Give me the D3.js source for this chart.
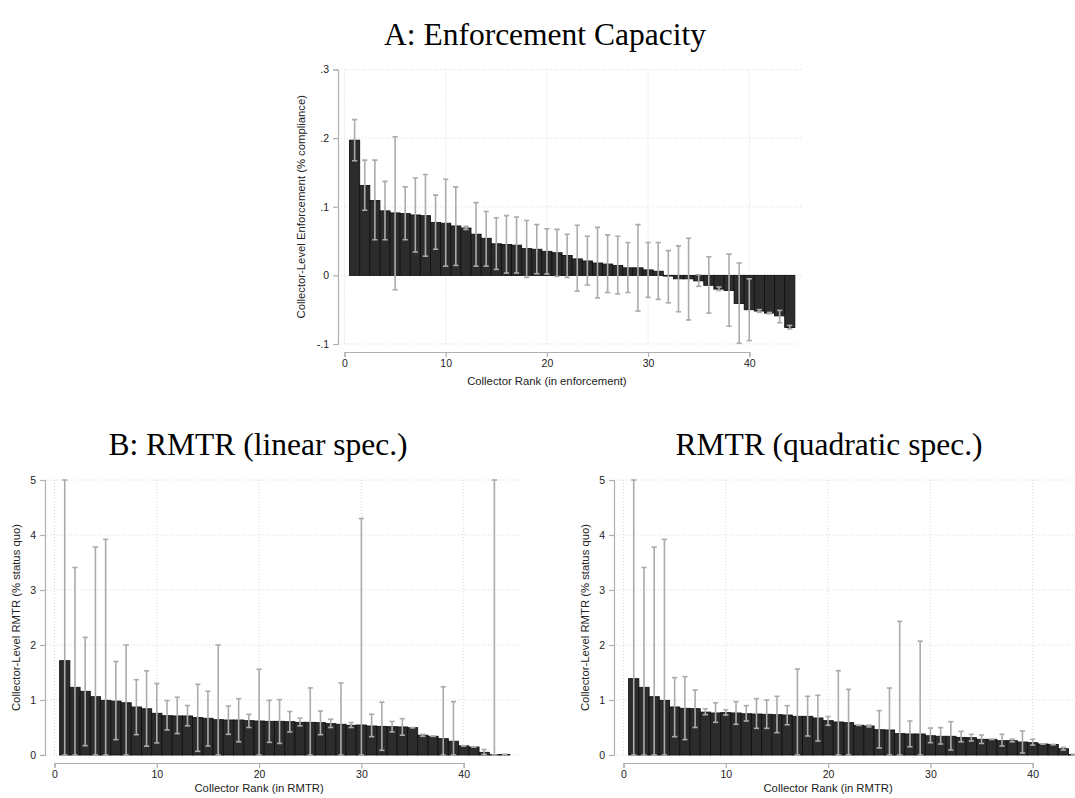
<!DOCTYPE html>
<html>
<head>
<meta charset="utf-8">
<script src="https://cdn.jsdelivr.net/npm/d3@7"></script>
<style>
  html, body { margin: 0; padding: 0; background: #fff; }
  svg { display: block; }
  .tick-label { font-family: "Liberation Sans", Arial, Helvetica, sans-serif; font-size: 10.5px; fill: #222; }
  .axis-title { font-family: "Liberation Sans", Arial, Helvetica, sans-serif; font-size: 11.3px; fill: #222; }
  .panel-title { font-family: "Liberation Serif", "Times New Roman", serif; font-size: 31.5px; fill: #000; }
</style>
</head>
<body>
<svg id="chart" width="1075" height="798"></svg>
<script>
// ---------------- DATA ----------------
// Panel A: collector-level enforcement, ranked
const valueA = [0.197,0.131,0.109,0.094,0.091,0.090,0.088,0.087,0.077,0.076,
                0.072,0.069,0.060,0.054,0.046,0.045,0.044,0.039,0.038,0.035,
                0.033,0.029,0.024,0.021,0.018,0.0165,0.0145,0.011,0.011,0.008,
                0.006,-0.001,-0.005,-0.005,-0.008,-0.0145,-0.020,-0.022,-0.041,-0.050,
                -0.052,-0.055,-0.059,-0.076];
const hiA = [0.227,0.168,0.168,0.137,0.202,0.129,0.142,0.147,0.117,0.140,
             0.129,0.0715,0.106,0.093,0.084,0.087,0.085,0.080,0.074,0.068,
             0.067,0.060,0.073,0.057,0.070,0.059,0.057,0.048,0.074,0.048,
             0.048,0.036,0.043,0.054,0.001,0.027,-0.017,0.031,0.018,-0.005,
             -0.050,-0.054,-0.051,-0.073];
const loA = [0.167,0.095,0.052,0.052,-0.021,0.052,0.034,0.028,0.038,0.0135,
             0.0145,0.067,0.0135,0.0135,0.0087,0.0034,0.0034,-0.003,0.0024,0.002,
             -0.0015,-0.003,-0.023,-0.014,-0.033,-0.025,-0.027,-0.025,-0.052,-0.032,
             -0.035,-0.040,-0.053,-0.065,-0.016,-0.055,-0.022,-0.074,-0.099,-0.095,
             -0.054,-0.056,-0.069,-0.078];

// Panel B: RMTR (linear spec.), ranked
const valueB = [1.715,1.23,1.158,1.06,0.994,0.98,0.95,0.873,0.84,0.758,
                0.715,0.71,0.71,0.68,0.667,0.642,0.636,0.636,0.624,0.618,
                0.612,0.612,0.606,0.594,0.594,0.588,0.57,0.558,0.54,0.545,
                0.527,0.52,0.515,0.51,0.497,0.36,0.34,0.297,0.25,0.166,
                0.145,0.048,0.006,0.01];
const hiB = [5.0,3.41,2.14,3.78,3.92,1.70,2.0,1.37,1.53,1.30,
             0.99,1.05,0.90,1.285,1.16,2.0,0.89,1.024,0.74,1.56,
             0.994,1.006,0.79,0.67,1.22,0.80,0.65,1.31,0.59,4.30,
             0.74,0.96,0.61,0.66,0.497,0.376,0.34,1.24,0.97,0.166,
             0.145,0.10,5.0,0.01];
const loB = [0,0,0.17,0,0,0.28,0,0.37,0.16,0.22,
             0.455,0.39,0.53,0.067,0.164,0,0.376,0.24,0.50,0,
             0.23,0.21,0.42,0.53,0,0.37,0.50,0,0.50,0,
             0.333,0.085,0.42,0.36,0.497,0.34,0.34,0,0,0.166,
             0.145,0.01,0,0.01];

// Panel C: RMTR (quadratic spec.), ranked
const valueC = [1.388,1.23,1.06,0.994,0.873,0.848,0.842,0.78,0.764,0.77,
                0.764,0.75,0.745,0.74,0.733,0.727,0.703,0.703,0.673,0.624,
                0.60,0.588,0.54,0.527,0.46,0.455,0.388,0.382,0.382,0.35,
                0.34,0.34,0.32,0.315,0.285,0.285,0.26,0.26,0.236,0.224,
                0.20,0.19,0.114,0.01];
const hiC = [5.0,3.41,3.78,3.92,1.406,1.424,1.18,0.84,0.95,0.82,
             0.97,0.897,1.024,1.0,1.067,0.897,1.564,1.067,1.085,0.70,
             1.533,1.194,0.54,0.545,0.806,1.218,2.43,0.618,2.07,0.49,
             0.497,0.606,0.43,0.376,0.364,0.285,0.376,0.29,0.436,0.285,
             0.20,0.19,0.14,0.01];
const loC = [0,0,0,0,0.333,0.28,0.50,0.733,0.594,0.727,
             0.558,0.618,0.485,0.485,0.406,0.55,0,0.345,0.255,0.54,
             0,0,0.54,0.51,0.127,0,0,0.15,0,0.224,
             0.2,0.09,0.24,0.255,0.21,0.285,0.164,0.24,0.036,0.18,
             0.20,0.19,0.09,0.01];

const xTicks = [0,10,20,30,40];
const yTicksA = [-0.1,0,0.1,0.2,0.3];
const yTickLabelsA = ["-.1","0",".1",".2",".3"];
const yTicksB = [0,1,2,3,4,5];

const titleA = "A: Enforcement Capacity";
const titleB = "B: RMTR (linear spec.)";
const titleC = "RMTR (quadratic spec.)";
const xTitleA = "Collector Rank (in enforcement)";
const xTitleB = "Collector Rank (in RMTR)";
const yTitleA = "Collector-Level Enforcement (% compliance)";
const yTitleB = "Collector-Level RMTR (% status quo)";

// ---------------- DRAW ----------------
const svg = d3.select("#chart");

function panel(cfg) {
  const g = svg.append("g");
  const x = d3.scaleLinear().domain([0, 40]).range([cfg.x0, cfg.x40]);
  const y = d3.scaleLinear().domain(cfg.yDomain).range(cfg.yRange);
  const ranks = cfg.values.map((_, i) => i + 1);

  const clipId = "clip" + cfg.id;
  svg.append("defs").append("clipPath").attr("id", clipId)
    .append("rect").attr("x", cfg.left).attr("y", cfg.yRange[1] - 2)
    .attr("width", cfg.right - cfg.left).attr("height", cfg.yRange[0] - cfg.yRange[1] + 4);

  // gridlines
  const grid = g.append("g").attr("stroke", "#d6d6d6").attr("stroke-width", 0.9)
    .attr("stroke-dasharray", "1,2");
  grid.selectAll(".hg").data(cfg.yTicks).join("line")
    .attr("x1", cfg.left).attr("x2", cfg.right)
    .attr("y1", d => y(d)).attr("y2", d => y(d));
  grid.selectAll(".vg").data(xTicks).join("line")
    .attr("x1", d => x(d)).attr("x2", d => x(d))
    .attr("y1", cfg.yRange[1]).attr("y2", cfg.yRange[0]);

  const plot = g.append("g").attr("clip-path", `url(#${clipId})`);

  // bars
  plot.selectAll("rect.bar").data(ranks).join("rect")
    .attr("class", "bar")
    .attr("x", k => x(k - 0.5))
    .attr("width", k => x(k + 0.5) - x(k - 0.5))
    .attr("y", (k, i) => y(Math.max(0, cfg.values[i])))
    .attr("height", (k, i) => Math.abs(y(cfg.values[i]) - y(0)))
    .attr("fill", "#2c2c2c")
    .attr("stroke", "#121212")
    .attr("stroke-width", 0.9);

  // error bars
  const eb = plot.append("g").attr("stroke", "#ababab");
  eb.selectAll("line.v").data(ranks).join("line")
    .attr("stroke-width", 1.6)
    .attr("x1", k => x(k)).attr("x2", k => x(k))
    .attr("y1", (k, i) => y(cfg.hi[i])).attr("y2", (k, i) => y(cfg.lo[i]));
  const capW = 2.6;
  eb.selectAll("line.ch").data(ranks).join("line")
    .attr("stroke-width", 1.6)
    .attr("x1", k => x(k) - capW).attr("x2", k => x(k) + capW)
    .attr("y1", (k, i) => y(cfg.hi[i])).attr("y2", (k, i) => y(cfg.hi[i]));
  eb.selectAll("line.cl").data(ranks).join("line")
    .attr("stroke-width", 1.6)
    .attr("x1", k => x(k) - capW).attr("x2", k => x(k) + capW)
    .attr("y1", (k, i) => y(cfg.lo[i])).attr("y2", (k, i) => y(cfg.lo[i]));

  // y axis
  const yAxis = d3.axisLeft(y).tickValues(cfg.yTicks).tickSize(5).tickPadding(4)
    .tickFormat((d, i) => cfg.yTickLabels[i]);
  const ya = g.append("g").attr("transform", `translate(${cfg.yAxisX},0)`).call(yAxis);
  ya.select(".domain").attr("stroke", "#b0b0b0").attr("stroke-width", 1.2);
  ya.selectAll(".tick line").attr("stroke", "#b0b0b0").attr("stroke-width", 1.2);
  ya.selectAll(".tick text").attr("class", "tick-label").attr("fill", "#222");

  // x axis
  const xAxis = d3.axisBottom(x).tickValues(xTicks).tickSize(5).tickPadding(3)
    .tickFormat(d3.format("d"));
  const xa = g.append("g").attr("transform", `translate(0,${cfg.xAxisY})`).call(xAxis);
  xa.select(".domain").attr("stroke", "#b0b0b0").attr("stroke-width", 1.2);
  xa.selectAll(".tick line").attr("stroke", "#b0b0b0").attr("stroke-width", 1.2);
  xa.selectAll(".tick text").attr("class", "tick-label").attr("fill", "#222");
  svg.selectAll(".domain").attr("fill", "none");

  // titles
  g.append("text").attr("class", "axis-title")
    .attr("x", (cfg.x0 + cfg.x40) / 2).attr("y", cfg.xTitleY)
    .attr("text-anchor", "middle").text(cfg.xTitle);
  const ym = (cfg.yRange[0] + cfg.yRange[1]) / 2;
  g.append("text").attr("class", "axis-title")
    .attr("transform", `translate(${cfg.yTitleX},${ym}) rotate(-90)`)
    .attr("text-anchor", "middle").text(cfg.yTitle);
  g.append("text").attr("class", "panel-title")
    .attr("x", cfg.titleX).attr("y", cfg.titleY)
    .attr("text-anchor", "middle").text(cfg.title);
}

panel({
  id: "A", values: valueA, hi: hiA, lo: loA,
  x0: 344.5, x40: 749.3, left: 341, right: 801,
  yDomain: [-0.1, 0.3], yRange: [344, 69.5],
  yTicks: yTicksA, yTickLabels: yTickLabelsA,
  yAxisX: 338, xAxisY: 352,
  xTitle: xTitleA, xTitleY: 385, yTitle: yTitleA, yTitleX: 305,
  title: titleA, titleX: 545, titleY: 45
});
panel({
  id: "B", values: valueB, hi: hiB, lo: loB,
  x0: 54.5, x40: 463.7, left: 47, right: 520,
  yDomain: [0, 5], yRange: [755, 480],
  yTicks: yTicksB, yTickLabels: yTicksB.map(String),
  yAxisX: 45, xAxisY: 763,
  xTitle: xTitleB, xTitleY: 792, yTitle: yTitleB, yTitleX: 20,
  title: titleB, titleX: 258, titleY: 455
});
panel({
  id: "C", values: valueC, hi: hiC, lo: loC,
  x0: 623.5, x40: 1032.7, left: 616, right: 1075,
  yDomain: [0, 5], yRange: [755, 480],
  yTicks: yTicksB, yTickLabels: yTicksB.map(String),
  yAxisX: 614, xAxisY: 763,
  xTitle: xTitleB, xTitleY: 792, yTitle: yTitleB, yTitleX: 589,
  title: titleC, titleX: 829, titleY: 455
});
</script>
</body>
</html>
